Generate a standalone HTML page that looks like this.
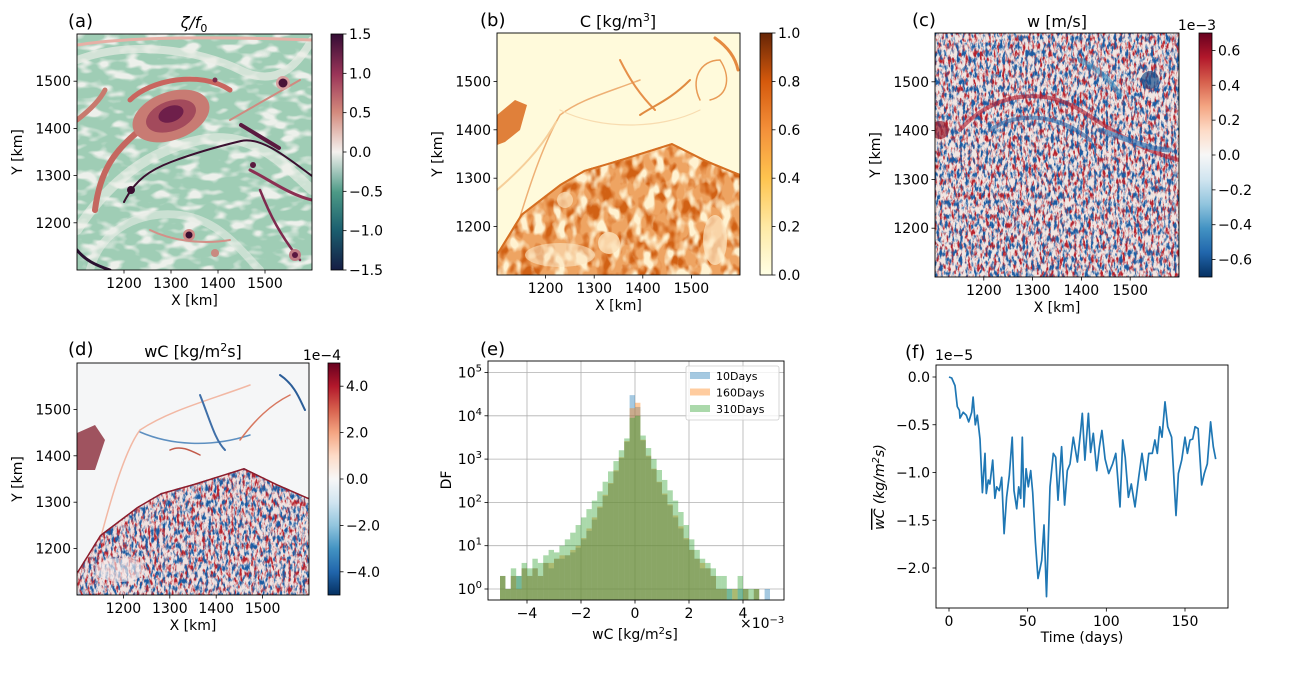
<!DOCTYPE html>
<html><head><meta charset="utf-8">
<style>
html,body{margin:0;padding:0;background:#fff;}
svg{display:block;font-family:"DejaVu Sans","Liberation Sans",sans-serif;}
</style></head>
<body>
<svg id="fig" width="1298" height="698" viewBox="0 0 1298 698" xmlns="http://www.w3.org/2000/svg">
<defs>
  <linearGradient id="gCurl" x1="0" y1="1" x2="0" y2="0">
    <stop offset="0" stop-color="#151d44"/><stop offset="0.17" stop-color="#1b5f6f"/>
    <stop offset="0.33" stop-color="#4d9a86"/><stop offset="0.5" stop-color="#f4f1ee"/>
    <stop offset="0.67" stop-color="#d3897c"/><stop offset="0.83" stop-color="#9a3458"/>
    <stop offset="1" stop-color="#340d35"/>
  </linearGradient>
  <linearGradient id="gYlOrBr" x1="0" y1="1" x2="0" y2="0">
    <stop offset="0" stop-color="#ffffe5"/><stop offset="0.2" stop-color="#fee9a4"/>
    <stop offset="0.4" stop-color="#fec44f"/><stop offset="0.6" stop-color="#f4903a"/>
    <stop offset="0.8" stop-color="#d5590c"/><stop offset="1" stop-color="#662506"/>
  </linearGradient>
  <linearGradient id="gRdBu" x1="0" y1="1" x2="0" y2="0">
    <stop offset="0" stop-color="#053061"/><stop offset="0.1" stop-color="#2166ac"/>
    <stop offset="0.2" stop-color="#4393c3"/><stop offset="0.3" stop-color="#92c5de"/>
    <stop offset="0.4" stop-color="#d1e5f0"/><stop offset="0.5" stop-color="#f7f7f7"/>
    <stop offset="0.6" stop-color="#fddbc7"/><stop offset="0.7" stop-color="#f4a582"/>
    <stop offset="0.8" stop-color="#d6604d"/><stop offset="0.9" stop-color="#b2182b"/>
    <stop offset="1" stop-color="#67001f"/>
  </linearGradient>
  <filter id="nRed" color-interpolation-filters="sRGB" x="0" y="0" width="1" height="1">
    <feTurbulence type="fractalNoise" baseFrequency="0.35 0.14" numOctaves="3" seed="3"/>
    <feColorMatrix type="matrix" values="0 0 0 0 0.72  0 0 0 0 0.13  0 0 0 0 0.17  4.5 0 0 0 -2.2"/>
  </filter>
  <filter id="nBlue" color-interpolation-filters="sRGB" x="0" y="0" width="1" height="1">
    <feTurbulence type="fractalNoise" baseFrequency="0.35 0.14" numOctaves="3" seed="11"/>
    <feColorMatrix type="matrix" values="0 0 0 0 0.10  0 0 0 0 0.36  0 0 0 0 0.64  4.5 0 0 0 -2.2"/>
  </filter>
  <filter id="nDark" color-interpolation-filters="sRGB" x="0" y="0" width="1" height="1">
    <feTurbulence type="fractalNoise" baseFrequency="0.09 0.06" numOctaves="2" seed="5"/>
    <feColorMatrix type="matrix" values="0 0 0 0 0.82  0 0 0 0 0.38  0 0 0 0 0.08  5 0 0 0 -2.3"/>
  </filter>
  <filter id="nLight" color-interpolation-filters="sRGB" x="0" y="0" width="1" height="1">
    <feTurbulence type="fractalNoise" baseFrequency="0.09 0.06" numOctaves="2" seed="9"/>
    <feColorMatrix type="matrix" values="0 0 0 0 1  0 0 0 0 0.95  0 0 0 0 0.82  5 0 0 0 -2.4"/>
  </filter>
  <filter id="nGreen" color-interpolation-filters="sRGB" x="0" y="0" width="1" height="1">
    <feTurbulence type="fractalNoise" baseFrequency="0.05 0.1" numOctaves="2" seed="2"/>
    <feColorMatrix type="matrix" values="0 0 0 0 0.93  0 0 0 0 0.94  0 0 0 0 0.92  5 0 0 0 -2.45"/>
  </filter>
  <clipPath id="clipA"><rect x="77" y="34" width="235" height="236"/></clipPath>
  <clipPath id="clipB"><rect x="497" y="33" width="243" height="242"/></clipPath>
  <clipPath id="clipC"><rect x="935" y="33" width="244" height="244"/></clipPath>
  <clipPath id="clipD"><rect x="77" y="363" width="232" height="232"/></clipPath>
  <clipPath id="clipBmass"><path d="M497,253 L521,214 L560,184 L584,170 L618,160 L672,143 L706,160 L740,174 L740,275 L497,275 Z"/></clipPath>
  <clipPath id="clipDmass"><path d="M77,572 L100,535 L137,507 L161,493 L193,484 L244,468 L277,484 L309,498 L309,595 L77,595 Z"/></clipPath>
  <clipPath id="clipE"><rect x="488" y="361" width="296" height="239"/></clipPath>
  <clipPath id="clipF"><rect x="936" y="365" width="292" height="243"/></clipPath>
</defs>

<!-- Panel (a) heatmap -->
<g clip-path="url(#clipA)">
  <rect x="77" y="34" width="235" height="236" fill="#9fcdb5"/>
  <rect x="77" y="34" width="235" height="236" filter="url(#nGreen)"/>
  <g fill="none" stroke-linecap="round">
    <path d="M77,60 C130,40 200,50 240,70 S300,60 312,40" stroke="#e9ece6" stroke-width="8" opacity="0.7"/>
    <path d="M77,230 C110,180 150,150 200,140 S280,160 312,190" stroke="#eef0ea" stroke-width="10" opacity="0.6"/>
    <path d="M90,270 C100,230 140,210 180,215 S240,250 260,270" stroke="#e8ece6" stroke-width="8" opacity="0.6"/>
    <path d="M130,100 C150,80 200,70 230,90" stroke="#c9655f" stroke-width="5"/>
    <path d="M95,210 C100,170 115,150 140,130" stroke="#c4675f" stroke-width="6"/>
    <path d="M124,202 C135,180 150,170 171,162 S220,146 241,141 S290,160 312,176" stroke="#3a1030" stroke-width="2"/>
    <path d="M241,125 L279,148" stroke="#5a1a40" stroke-width="4"/>
    <path d="M250,170 C270,180 290,195 312,200" stroke="#8b2f52" stroke-width="3"/>
    <path d="M260,190 C270,215 280,235 300,260" stroke="#7e2a4e" stroke-width="2.5"/>
    <path d="M77,250 C85,260 95,265 110,270" stroke="#2a1030" stroke-width="3"/>
    <path d="M230,120 L300,80" stroke="#d08a80" stroke-width="2"/>
    <path d="M77,120 C90,110 100,100 105,90" stroke="#c87a6e" stroke-width="5"/>
    <path d="M150,230 C170,240 200,245 230,240" stroke="#d49088" stroke-width="2"/>
    <path d="M77,45 C120,38 200,36 312,40" stroke="#e6b0a6" stroke-width="3"/>
  </g>
  <ellipse cx="171" cy="116" rx="40" ry="24" transform="rotate(-20 171 116)" fill="#c87b73"/>
  <ellipse cx="171" cy="116" rx="26" ry="15" transform="rotate(-20 171 116)" fill="#a34a5c"/>
  <ellipse cx="171" cy="114" rx="13" ry="8" transform="rotate(-20 171 114)" fill="#6e1f4a"/>
  <circle cx="283" cy="83" r="7" fill="#d8a0a0"/><circle cx="283" cy="83" r="4.5" fill="#4a1238"/>
  <circle cx="131" cy="190" r="4" fill="#3a0e30"/>
  <circle cx="189" cy="235" r="6" fill="#d08a88"/><circle cx="189" cy="235" r="3.5" fill="#3a0e30"/>
  <circle cx="295" cy="255" r="6" fill="#c07c84"/><circle cx="295" cy="255" r="3" fill="#5a1840"/>
  <circle cx="215" cy="253" r="4" fill="#c98a80"/>
  <circle cx="253" cy="165" r="3" fill="#5a1a40"/>
  <circle cx="215" cy="80" r="2.5" fill="#7a2a4a"/>
</g>

<!-- Panel (b) heatmap -->
<g clip-path="url(#clipB)">
  <rect x="497" y="33" width="243" height="242" fill="#fffadb"/>
  <g fill="none" stroke-linecap="round">
    <path d="M512,243 C525,200 540,150 560,115 C580,100 600,95 640,80" stroke="#eeb075" stroke-width="1.5"/>
    <path d="M497,190 C520,170 540,150 556,122" stroke="#f6cf9a" stroke-width="2"/>
    <path d="M620,60 C630,80 640,95 655,110" stroke="#e6904a" stroke-width="2"/>
    <path d="M640,115 C655,105 670,100 690,80" stroke="#e08a40" stroke-width="2"/>
    <path d="M700,100 C690,80 700,60 720,60 C730,75 730,95 710,100" stroke="#e89a55" stroke-width="1.5"/>
    <path d="M715,38 C725,45 735,55 738,70" stroke="#e58a40" stroke-width="3"/>
    <path d="M560,110 C600,130 660,130 700,110" stroke="#f8dcb0" stroke-width="1.2"/>
    <path d="M497,260 C510,265 520,270 530,275" stroke="#e08a40" stroke-width="4"/>
  </g>
  <path d="M497,115 L515,100 L527,105 L520,130 L505,142 L497,145 Z" fill="#e0803a"/>
  <g clip-path="url(#clipBmass)">
    <rect x="497" y="140" width="243" height="135" fill="#eea462"/>
    <rect x="497" y="140" width="243" height="135" filter="url(#nDark)"/>
    <rect x="497" y="140" width="243" height="135" filter="url(#nLight)"/>
    <path d="M497,253 L521,214 L560,184 L584,170 L618,160 L672,143 L706,160 L740,174" fill="none" stroke="#d56f22" stroke-width="4"/>
    <circle cx="609" cy="243" r="11" fill="#fbe0b8" opacity="0.8"/>
    <circle cx="565" cy="200" r="8" fill="#fbe0b8" opacity="0.7"/>
    <ellipse cx="715" cy="240" rx="12" ry="25" fill="#fde8c4" opacity="0.7"/>
    <ellipse cx="560" cy="255" rx="35" ry="12" fill="#fbe4c0" opacity="0.6"/>
  </g>
</g>

<!-- Panel (c) heatmap -->
<g clip-path="url(#clipC)">
  <rect x="935" y="33" width="244" height="244" fill="#f1e6e2"/>
  <rect x="935" y="33" width="244" height="244" filter="url(#nRed)"/>
  <rect x="935" y="33" width="244" height="244" filter="url(#nBlue)"/>
  <g fill="none" stroke-linecap="round" opacity="0.6">
    <path d="M960,130 C990,95 1040,85 1080,110 S1140,150 1179,160" stroke="#b2182b" stroke-width="4"/>
    <path d="M990,130 C1020,110 1060,115 1090,140" stroke="#2166ac" stroke-width="4"/>
    <path d="M1100,130 C1130,140 1150,150 1170,150" stroke="#2166ac" stroke-width="5"/>
    <path d="M1080,60 C1100,70 1110,80 1120,95" stroke="#4393c3" stroke-width="5"/>
  </g>
  <circle cx="1150" cy="80" r="9" fill="#1c4f8a" opacity="0.7"/>
  <circle cx="940" cy="130" r="9" fill="#9b1c2e" opacity="0.7"/>
</g>

<!-- Panel (d) heatmap -->
<g clip-path="url(#clipD)">
  <rect x="77" y="363" width="232" height="232" fill="#f5f6f7"/>
  <g fill="none" stroke-linecap="round">
    <path d="M95,560 C110,500 125,450 140,430 C170,410 210,400 250,385" stroke="#f2b8a4" stroke-width="1.5"/>
    <path d="M140,432 C170,445 210,448 250,435" stroke="#5d8fc0" stroke-width="1.5"/>
    <path d="M200,395 C210,420 215,440 225,450" stroke="#3f6fa8" stroke-width="2"/>
    <path d="M240,440 C255,420 270,405 290,395" stroke="#d7775f" stroke-width="1.5"/>
    <path d="M280,375 C295,385 300,400 305,410" stroke="#2b5d98" stroke-width="2"/>
    <path d="M170,450 C180,445 190,450 200,455" stroke="#c25a4a" stroke-width="1.5"/>
  </g>
  <path d="M77,433 L95,425 L105,440 L95,470 L77,470 Z" fill="#8a2a38" opacity="0.8"/>
  <g clip-path="url(#clipDmass)">
    <rect x="77" y="465" width="232" height="130" fill="#efe2e0"/>
    <rect x="77" y="465" width="232" height="130" filter="url(#nRed)"/>
    <rect x="77" y="465" width="232" height="130" filter="url(#nBlue)"/>
    <path d="M77,572 L100,535 L137,507 L161,493 L193,484 L244,468 L277,484 L309,498" fill="none" stroke="#8c1d2c" stroke-width="3"/>
    <ellipse cx="120" cy="570" rx="25" ry="12" fill="#f6eeec" opacity="0.6"/>
  </g>
</g>

<g id="axesLayer"></g>
</svg>

<script>
// ---------- data: panel (f) time series ----------
const fDays = [0,1.7,3.8,5.3,6.6,7,9,11,12.5,14.4,15.3,16.7,18,19.7,21.2,22.9,23.7,25,26,27.8,29.2,30.3,32,33.5,35,36.6,38.3,40.2,41.3,43,44.3,45.6,46.6,47.7,49,50.4,51.9,53.2,54.9,56.6,58.9,60.4,62,64.2,66.3,67.8,69.3,71.6,73.5,75.2,76.9,79,81.6,83.7,84.7,86.4,88.6,90,91.7,93.9,95.6,97.2,99.2,101.5,104,106,108.7,110.4,112,114,115.9,118.2,120.6,122.7,125,127,129.2,130.9,132.4,134,135.4,137.3,139,141.5,144.3,145.8,147.9,150,151.5,153.2,154.9,156.4,158.3,160.6,162.3,164.2,166.3,168,169.5];
const fVals = [0,-0.01,-0.09,-0.31,-0.35,-0.43,-0.37,-0.40,-0.47,-0.37,-0.21,-0.50,-0.40,-0.65,-1.21,-0.80,-1.22,-1.08,-1.12,-0.87,-1.27,-1.15,-1.19,-1.05,-1.64,-1.26,-1.03,-0.63,-1.19,-1.38,-1.15,-1.27,-0.63,-1.36,-0.96,-1.15,-0.98,-1.21,-1.73,-2.11,-1.92,-1.55,-2.30,-1.15,-0.80,-0.84,-1.29,-0.73,-1.34,-0.98,-0.91,-0.63,-0.89,-0.56,-0.38,-0.87,-0.38,-0.79,-0.59,-0.98,-0.73,-0.56,-0.86,-1.01,-0.91,-0.80,-1.36,-0.66,-0.84,-1.26,-1.12,-1.36,-1.05,-0.80,-1.08,-0.80,-0.80,-0.66,-0.80,-0.52,-0.63,-0.26,-0.52,-0.63,-1.45,-1.01,-0.87,-0.63,-0.80,-0.66,-0.65,-0.52,-0.54,-1.13,-1.01,-0.91,-0.47,-0.73,-0.86];
const fXTicks = [0,50,100,150];
const fYTicks = [0.0,-0.5,-1.0,-1.5,-2.0];

// ---------- data: panel (e) histograms ----------
const eBinCenters = [-4.9,-4.7,-4.5,-4.3,-4.1,-3.9,-3.7,-3.5,-3.3,-3.1,-2.9,-2.7,-2.5,-2.3,-2.1,-1.9,-1.7,-1.5,-1.3,-1.1,-0.9,-0.7,-0.5,-0.3,-0.1,0.1,0.3,0.5,0.7,0.9,1.1,1.3,1.5,1.7,1.9,2.1,2.3,2.5,2.7,2.9,3.1,3.3,3.5,3.7,3.9,4.1,4.3,4.5,4.7,4.9];
const eCounts10 = [2,1,2,2,3,2,3,2,4,3,5,5,6,7,9,14,22,40,75,140,270,520,1050,2500,30000,16000,2700,1150,580,290,150,85,45,25,14,8,5,3,3,2,1,1,1,0,1,1,0,1,0,1];
const eCounts160 = [2,1,2,1,3,2,3,2,4,4,5,6,6,8,10,15,25,45,80,150,280,550,1100,2600,15000,20000,2800,1200,600,300,160,90,50,28,15,8,5,4,3,2,1,1,0,1,0,1,0,1,0,0];
const eCounts310 = [2,1,3,2,4,3,5,4,6,8,7,10,14,20,30,45,70,110,180,300,520,900,1600,3000,9000,10000,3500,1800,1000,560,330,190,110,60,30,14,8,5,4,3,2,2,1,1,2,1,1,1,0,0];
const eXTicks = [-4,-2,0,2,4];
const eYExps = [0,1,2,3,4,5];
const eLegend = ['10Days','160Days','310Days'];

// ---------- colorbar tick data ----------
const cbA = [1.5,1.0,0.5,0.0,-0.5,-1.0,-1.5];
const cbB = [1.0,0.8,0.6,0.4,0.2,0.0];
const cbC = [0.6,0.4,0.2,0.0,-0.2,-0.4,-0.6];
const cbD = [4.0,2.0,0.0,-2.0,-4.0];
const kmTicks = [1200,1300,1400,1500];

const NS = 'http://www.w3.org/2000/svg';
const layer = document.getElementById('axesLayer');
const FS = 14;
function mk(tag, attrs, name, parent) {
  const el = document.createElementNS(NS, tag);
  for (const k in attrs) el.setAttribute(k, attrs[k]);
  
  
  (parent || layer).appendChild(el);
  return el;
}
function txt(x, y, s, anchor, size, name, extra) {
  const a = {x: x, y: y, 'font-size': size, 'text-anchor': anchor, fill: '#000'};
  if (extra) for (const k in extra) a[k] = extra[k];
  const t = mk('text', a, name);
  t.textContent = s;
  return t;
}
function fmt(v, d) { const s = v.toFixed(d); return s.replace('-', '\u2212'); }

function heatAxes(p, id) {
  const kx = (p.r - p.l) / 500, ky = (p.b - p.t) / 500;
  mk('rect', {x: p.l, y: p.t, width: p.r - p.l, height: p.b - p.t, fill: 'none', stroke: '#000', 'stroke-width': 0.9}, id + '-frame');
  kmTicks.forEach(v => {
    const x = p.l + (v - 1100) * kx;
    mk('line', {x1: x, y1: p.b, x2: x, y2: p.b + 3.5, stroke: '#000', 'stroke-width': 0.8}, id + '-x-tick');
    txt(x, p.b + 18, String(v), 'middle', FS, id + '-x-tick-label');
    const y = p.t + (1600 - v) * ky;
    mk('line', {x1: p.l - 3.5, y1: y, x2: p.l, y2: y, stroke: '#000', 'stroke-width': 0.8}, id + '-y-tick');
    txt(p.l - 6, y + 5, String(v), 'end', FS, id + '-y-tick-label');
  });
  txt((p.l + p.r) / 2, p.b + 35, 'X [km]', 'middle', FS, id + '-x-axis-title');
  const yc = (p.t + p.b) / 2, xl = p.l - 55;
  txt(xl, yc, 'Y [km]', 'middle', FS, id + '-y-axis-title', {transform: 'rotate(-90 ' + xl + ' ' + yc + ')'});
}
function colorbar(c, ticks, grad, id, dec) {
  mk('rect', {x: c.x, y: c.t, width: c.w, height: c.b - c.t, fill: 'url(#' + grad + ')', stroke: '#000', 'stroke-width': 0.8}, id + '-colorbar');
  ticks.forEach(v => {
    const y = c.b - (v - c.min) / (c.max - c.min) * (c.b - c.t);
    mk('line', {x1: c.x + c.w, y1: y, x2: c.x + c.w + 3.5, y2: y, stroke: '#000', 'stroke-width': 0.8}, id + '-colorbar-tick');
    txt(c.x + c.w + 6, y + 5, fmt(v, dec), 'start', FS, id + '-colorbar-label');
  });
}
heatAxes({l: 77, r: 312, t: 34, b: 270}, 'panel-a');
colorbar({x: 331, w: 12, t: 34, b: 270, min: -1.5, max: 1.5}, cbA, 'gCurl', 'panel-a', 1);
heatAxes({l: 497, r: 740, t: 33, b: 275}, 'panel-b');
colorbar({x: 760, w: 12, t: 33, b: 275, min: 0, max: 1}, cbB, 'gYlOrBr', 'panel-b', 1);
heatAxes({l: 935, r: 1179, t: 33, b: 277}, 'panel-c');
colorbar({x: 1199, w: 13, t: 33, b: 277, min: -0.7, max: 0.7}, cbC, 'gRdBu', 'panel-c', 1);
txt(1216, 30, '1e\u22123', 'end', FS, 'panel-c-colorbar-scale');
heatAxes({l: 77, r: 309, t: 363, b: 595}, 'panel-d');
colorbar({x: 328, w: 12, t: 363, b: 595, min: -5, max: 5}, cbD, 'gRdBu', 'panel-d', 1);
txt(341, 360, '1e\u22124', 'end', FS, 'panel-d-colorbar-scale');

txt(68, 27, '(a)', 'start', 18, 'panel-a-label');
const ta = txt(194, 28, '', 'middle', 16, 'panel-a-title');
ta.innerHTML = '<tspan font-style="italic">\u03b6/f</tspan><tspan font-size="11" dy="4">0</tspan>';
txt(480, 26, '(b)', 'start', 18, 'panel-b-label');
const tb = txt(618, 27, '', 'middle', 16, 'panel-b-title');
tb.innerHTML = 'C [kg/m<tspan font-size="11" dy="-6">3</tspan><tspan dy="6">]</tspan>';
txt(912, 26, '(c)', 'start', 18, 'panel-c-label');
txt(1057, 27, 'w [m/s]', 'middle', 16, 'panel-c-title');
txt(68, 355, '(d)', 'start', 18, 'panel-d-label');
const td = txt(193, 357, '', 'middle', 16, 'panel-d-title');
td.innerHTML = 'wC [kg/m<tspan font-size="11" dy="-6">2</tspan><tspan dy="6">s]</tspan>';
txt(480, 355, '(e)', 'start', 18, 'panel-e-label');
txt(905, 358, '(f)', 'start', 18, 'panel-f-label');
txt(935, 360, '1e\u22125', 'start', FS, 'panel-f-scale');

// ---------- panel (e) histogram ----------
const E = {l: 488, r: 784, t: 361, b: 600};
function ex(v) { return 635 + v * 27; }
function ey(c) { return 589 - 43.3 * Math.log10(c); }
const eg = mk('g', {'clip-path': 'url(#clipE)'}, 'histogram-plot-area');
eXTicks.forEach(v => mk('line', {x1: ex(v), y1: E.t, x2: ex(v), y2: E.b, stroke: '#b0b0b0', 'stroke-width': 0.8}, 'x-gridline', eg));
eYExps.forEach(e => mk('line', {x1: E.l, y1: ey(Math.pow(10, e)), x2: E.r, y2: ey(Math.pow(10, e)), stroke: '#b0b0b0', 'stroke-width': 0.8}, 'y-gridline', eg));
const series = [[eCounts10, '#1f77b4', 'hist-10days'], [eCounts160, '#ff7f0e', 'hist-160days'], [eCounts310, '#2ca02c', 'hist-310days']];
series.forEach(s => {
  const g = mk('g', {fill: s[1], 'fill-opacity': 0.4}, s[2], eg);
  s[0].forEach((c, i) => {
    if (c <= 0) return;
    const x0 = ex(eBinCenters[i] - 0.1), x1 = ex(eBinCenters[i] + 0.1);
    mk('rect', {x: x0, y: ey(c), width: x1 - x0, height: E.b - ey(c)}, 'histogram-bar', g);
  });
});
mk('rect', {x: E.l, y: E.t, width: E.r - E.l, height: E.b - E.t, fill: 'none', stroke: '#000', 'stroke-width': 0.9}, 'panel-e-frame');
eXTicks.forEach(v => {
  mk('line', {x1: ex(v), y1: E.b, x2: ex(v), y2: E.b + 3.5, stroke: '#000', 'stroke-width': 0.8}, 'panel-e-x-tick');
  txt(ex(v), E.b + 18, fmt(v, 0), 'middle', FS, 'panel-e-x-tick-label');
});
eYExps.forEach(e => {
  const y = ey(Math.pow(10, e));
  mk('line', {x1: E.l - 3.5, y1: y, x2: E.l, y2: y, stroke: '#000', 'stroke-width': 0.8}, 'panel-e-y-tick');
  const t = txt(E.l - 6, y + 5, '', 'end', FS, 'panel-e-y-tick-label');
  t.innerHTML = '10<tspan font-size="10" dy="-6">' + e + '</tspan>';
});
const exl = txt(635, 639, '', 'middle', FS, 'panel-e-x-axis-title');
exl.innerHTML = 'wC [kg/m<tspan font-size="10" dy="-5">2</tspan><tspan dy="5">s]</tspan>';
const exs = txt(740, 628, '', 'start', FS, 'panel-e-x-scale');
exs.innerHTML = '\u00d710<tspan font-size="10" dy="-5">\u22123</tspan>';
txt(451, 480, 'DF', 'middle', FS, 'panel-e-y-axis-title', {transform: 'rotate(-90 451 480)'});
mk('rect', {x: 686, y: 366, width: 93, height: 54, fill: '#fff', 'fill-opacity': 0.8, stroke: '#ccc', 'stroke-width': 0.8, rx: 2}, 'legend-box');
series.forEach((s, i) => {
  const y = 372 + i * 16.5;
  mk('rect', {x: 690, y: y, width: 20, height: 7, fill: s[1], 'fill-opacity': 0.4}, 'legend-swatch');
  txt(716, y + 8, eLegend[i], 'start', 11, 'legend-entry');
});

// ---------- panel (f) line ----------
const F = {l: 936, r: 1228, t: 365, b: 608};
function fx(d) { return 949 + d * 1.5733; }
function fy(v) { return 377 - v * 95.5; }
const fg = mk('g', {'clip-path': 'url(#clipF)'}, 'line-plot-area');
let dstr = '';
fDays.forEach((d, i) => { dstr += (i ? 'L' : 'M') + fx(d).toFixed(1) + ',' + fy(fVals[i]).toFixed(1); });
mk('path', {d: dstr, fill: 'none', stroke: '#1f77b4', 'stroke-width': 1.7, 'stroke-linejoin': 'round'}, 'flux-timeseries-line', fg);
mk('rect', {x: F.l, y: F.t, width: F.r - F.l, height: F.b - F.t, fill: 'none', stroke: '#000', 'stroke-width': 0.9}, 'panel-f-frame');
fXTicks.forEach(v => {
  mk('line', {x1: fx(v), y1: F.b, x2: fx(v), y2: F.b + 3.5, stroke: '#000', 'stroke-width': 0.8}, 'panel-f-x-tick');
  txt(fx(v), F.b + 18, String(v), 'middle', FS, 'panel-f-x-tick-label');
});
fYTicks.forEach(v => {
  mk('line', {x1: F.l - 3.5, y1: fy(v), x2: F.l, y2: fy(v), stroke: '#000', 'stroke-width': 0.8}, 'panel-f-y-tick');
  txt(F.l - 6, fy(v) + 5, fmt(v, 1), 'end', FS, 'panel-f-y-tick-label');
});
txt(1082, 642, 'Time (days)', 'middle', FS, 'panel-f-x-axis-title');
const fyl = txt(884, 487, '', 'middle', FS, 'panel-f-y-axis-title', {transform: 'rotate(-90 884 487)', 'font-style': 'italic'});
fyl.innerHTML = '<tspan text-decoration="overline">wC</tspan> (kg/m<tspan font-size="10" dy="-5">2</tspan><tspan dy="5">s)</tspan>';
</script>
</body></html>
